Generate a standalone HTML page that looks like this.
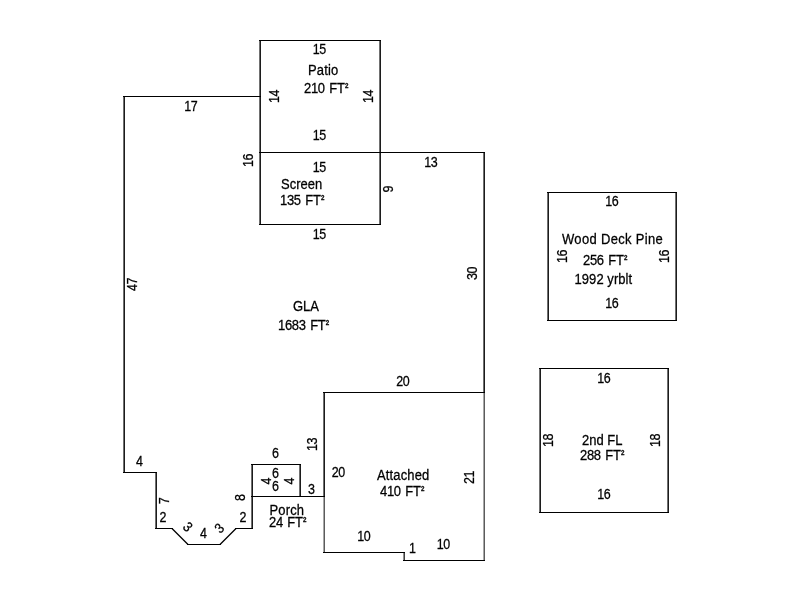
<!DOCTYPE html>
<html><head><meta charset="utf-8">
<style>
html,body{margin:0;padding:0;background:#fff;}
body{width:800px;height:600px;overflow:hidden;}
svg{display:block;}
.t{filter:grayscale(1);}
text{font-family:"Liberation Sans",sans-serif;font-size:13px;fill:#000;stroke:#000;stroke-width:0.25px;}
.n{letter-spacing:-0.4px;}
.f{letter-spacing:-0.3px;word-spacing:1.2px;}
.w{letter-spacing:0.15px;}
.w0{letter-spacing:0;}
.f2{letter-spacing:-0.2px;word-spacing:0.8px;}
.y{letter-spacing:0.07px;}
.ww{letter-spacing:0.33px;}
.s{font-size:6.2px;font-weight:bold;letter-spacing:0;}
.l{shape-rendering:crispEdges;}
.d{fill:none;stroke:#000;stroke-width:1.25;}
</style></head><body>
<svg width="800" height="600" viewBox="0 0 800 600">
<g class="l">
<rect x="483" y="392" width="1" height="169" fill="#a8a8a8"/>
<rect x="484" y="392" width="1" height="169" fill="#5c5c5c"/>
<rect x="323" y="392" width="1" height="161" fill="#a8a8a8"/>
<rect x="324" y="392" width="1" height="161" fill="#5c5c5c"/>
<rect x="403" y="552" width="1" height="9" fill="#909090"/>
<rect x="404" y="552" width="1" height="9" fill="#404040"/>
<rect x="123" y="96" width="1" height="377" fill="#707070"/>
<rect x="124" y="96" width="1" height="377" fill="#1c1c1c"/>
<rect x="259" y="40" width="1" height="185" fill="#707070"/>
<rect x="260" y="40" width="1" height="185" fill="#1c1c1c"/>
<rect x="379" y="40" width="1" height="185" fill="#707070"/>
<rect x="380" y="40" width="1" height="185" fill="#1c1c1c"/>
<rect x="483" y="152" width="1" height="241" fill="#707070"/>
<rect x="484" y="152" width="1" height="241" fill="#1c1c1c"/>
<rect x="323" y="392" width="1" height="105" fill="#707070"/>
<rect x="324" y="392" width="1" height="105" fill="#1c1c1c"/>
<rect x="299" y="464" width="1" height="33" fill="#707070"/>
<rect x="300" y="464" width="1" height="33" fill="#1c1c1c"/>
<rect x="251" y="464" width="1" height="65" fill="#707070"/>
<rect x="252" y="464" width="1" height="65" fill="#1c1c1c"/>
<rect x="155" y="472" width="1" height="57" fill="#707070"/>
<rect x="156" y="472" width="1" height="57" fill="#1c1c1c"/>
<rect x="547" y="192" width="1" height="129" fill="#707070"/>
<rect x="548" y="192" width="1" height="129" fill="#1c1c1c"/>
<rect x="675" y="192" width="1" height="129" fill="#707070"/>
<rect x="676" y="192" width="1" height="129" fill="#1c1c1c"/>
<rect x="539" y="368" width="1" height="145" fill="#707070"/>
<rect x="540" y="368" width="1" height="145" fill="#1c1c1c"/>
<rect x="667" y="368" width="1" height="145" fill="#707070"/>
<rect x="668" y="368" width="1" height="145" fill="#1c1c1c"/>
<rect x="123" y="96" width="138" height="1" fill="#000"/>
<rect x="259" y="40" width="122" height="1" fill="#000"/>
<rect x="259" y="152" width="226" height="1" fill="#000"/>
<rect x="259" y="224" width="122" height="1" fill="#000"/>
<rect x="323" y="392" width="162" height="1" fill="#000"/>
<rect x="251" y="496" width="74" height="1" fill="#000"/>
<rect x="251" y="464" width="50" height="1" fill="#000"/>
<rect x="235" y="528" width="18" height="1" fill="#000"/>
<rect x="155" y="528" width="18" height="1" fill="#000"/>
<rect x="187" y="544" width="34" height="1" fill="#000"/>
<rect x="123" y="472" width="34" height="1" fill="#000"/>
<rect x="323" y="552" width="82" height="1" fill="#000"/>
<rect x="403" y="560" width="82" height="1" fill="#000"/>
<rect x="547" y="192" width="130" height="1" fill="#000"/>
<rect x="547" y="320" width="130" height="1" fill="#000"/>
<rect x="539" y="368" width="130" height="1" fill="#000"/>
<rect x="539" y="512" width="130" height="1" fill="#000"/>
</g>
<!-- bay diagonals (antialiased) -->
<path class="d" d="M172 528.5L188 544.5M220 544.5L236 528.5"/>
<g class="t">
<text class="n" transform="translate(312.7,54) scale(0.96,1.08)">15</text>
<text class="w" transform="translate(308,75) scale(1,1.08)">Patio</text>
<text class="f" transform="translate(304,93) scale(1,1.08)">210 FT<tspan class="s" dx="0.4" dy="-4.5">2</tspan></text>
<text class="n" transform="translate(312.7,140) scale(0.96,1.08)">15</text>
<text class="n" transform="translate(184.2,111) scale(0.96,1.08)">17</text>
<text class="n" transform="translate(312.7,172) scale(0.96,1.08)">15</text>
<text class="w0" transform="translate(281,189) scale(1,1.08)">Screen</text>
<text class="f" transform="translate(280,205) scale(1,1.08)">135 FT<tspan class="s" dx="0.4" dy="-4.5">2</tspan></text>
<text class="n" transform="translate(312.7,239) scale(0.96,1.08)">15</text>
<text class="n" transform="translate(424.2,167) scale(0.96,1.08)">13</text>
<text class="w0" transform="translate(293,311) scale(1,1.08)">GLA</text>
<text class="f" transform="translate(278,330) scale(1,1.08)">1683 FT<tspan class="s" dx="0.4" dy="-4.5">2</tspan></text>
<text class="n" transform="translate(396.2,386) scale(0.96,1.08)">20</text>
<text class="n" transform="translate(272,458) scale(0.96,1.08)">6</text>
<text class="n" transform="translate(136,466) scale(0.96,1.08)">4</text>
<text class="n" transform="translate(331.7,477) scale(0.96,1.08)">20</text>
<text class="w" transform="translate(377,480) scale(1,1.08)">Attached</text>
<text class="f" transform="translate(380,496) scale(1,1.08)">410 FT<tspan class="s" dx="0.4" dy="-4.5">2</tspan></text>
<text class="n" transform="translate(272,478) scale(0.96,1.08)">6</text>
<text class="n" transform="translate(272,491) scale(0.96,1.08)">6</text>
<text class="n" transform="translate(308,494) scale(0.96,1.08)">3</text>
<text class="n" transform="translate(159.6,522) scale(0.96,1.08)">2</text>
<text class="n" transform="translate(239.6,522) scale(0.96,1.08)">2</text>
<text class="w" transform="translate(269.5,515) scale(1,1.08)">Porch</text>
<text class="f2" transform="translate(269,527) scale(1,1.08)">24 FT<tspan class="s" dx="0.4" dy="-4.5">2</tspan></text>
<text class="n" transform="translate(200,538) scale(0.96,1.08)">4</text>
<text class="n" transform="translate(357.2,541) scale(0.96,1.08)">10</text>
<text class="n" transform="translate(436.7,549) scale(0.96,1.08)">10</text>
<text class="n" transform="translate(409,553) scale(0.96,1.08)">1</text>
<text class="n" transform="translate(605.2,206) scale(0.96,1.08)">16</text>
<text class="ww" transform="translate(562,244) scale(1,1.08)">Wood Deck Pine</text>
<text class="f" transform="translate(583,265) scale(1,1.08)">256 FT<tspan class="s" dx="0.4" dy="-4.5">2</tspan></text>
<text class="y" transform="translate(574.5,284) scale(1,1.08)">1992 yrblt</text>
<text class="n" transform="translate(605.2,308) scale(0.96,1.08)">16</text>
<text class="n" transform="translate(597.2,383) scale(0.96,1.08)">16</text>
<text class="n" transform="translate(597.2,499) scale(0.96,1.08)">16</text>
<text class="w0" transform="translate(582,445) scale(1,1.08)">2nd FL</text>
<text class="f" transform="translate(580,460) scale(1,1.08)">288 FT<tspan class="s" dx="0.4" dy="-4.5">2</tspan></text>
<text class="n" transform="translate(278.7,103) rotate(-90) scale(0.96,1.08)">14</text>
<text class="n" transform="translate(373.2,103) rotate(-90) scale(0.96,1.08)">14</text>
<text class="n" transform="translate(252.7,167) rotate(-90) scale(0.96,1.08)">16</text>
<text class="n" transform="translate(392.7,192.5) rotate(-90) scale(0.96,1.08)">9</text>
<text class="n" transform="translate(476.7,280) rotate(-90) scale(0.96,1.08)">30</text>
<text class="n" transform="translate(137.2,291) rotate(-90) scale(0.96,1.08)">47</text>
<text class="n" transform="translate(316.7,451) rotate(-90) scale(0.96,1.08)">13</text>
<text class="n" transform="translate(473.9,484) rotate(-90) scale(0.96,1.08)">21</text>
<text class="n" transform="translate(270.7,484.6) rotate(-90) scale(0.96,1.08)">4</text>
<text class="n" transform="translate(293.7,484.6) rotate(-90) scale(0.96,1.08)">4</text>
<text class="n" transform="translate(244.7,500.9) rotate(-90) scale(0.96,1.08)">8</text>
<text class="n" transform="translate(168.7,504.2) rotate(-90) scale(0.96,1.08)">7</text>
<text class="n" transform="translate(182,527.8) rotate(45) scale(0.96,1.08)">3</text>
<text class="n" transform="translate(220.2,534) rotate(-45) scale(0.96,1.08)">3</text>
<text class="n" transform="translate(566.7,263) rotate(-90) scale(0.96,1.08)">16</text>
<text class="n" transform="translate(668.7,263) rotate(-90) scale(0.96,1.08)">16</text>
<text class="n" transform="translate(552.7,447) rotate(-90) scale(0.96,1.08)">18</text>
<text class="n" transform="translate(660.1,447) rotate(-90) scale(0.96,1.08)">18</text>
</g>
</svg>
</body></html>
